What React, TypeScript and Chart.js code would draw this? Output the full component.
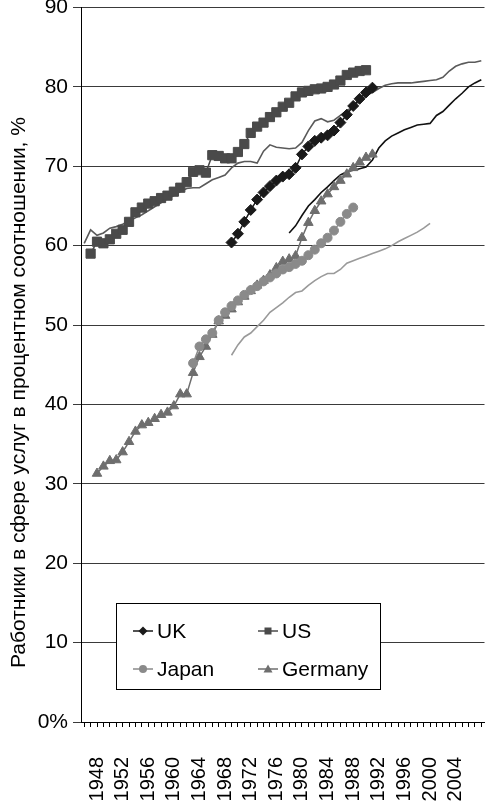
import React, { useEffect, useRef } from 'react';
import { Chart, registerables } from 'chart.js';

Chart.register(...registerables);

const FONT = '"Liberation Sans", Arial, Helvetica, sans-serif';

// ---------- data ----------
const yTickValues = [0, 10, 20, 30, 40, 50, 60, 70, 80, 90];
const xFirstYear = 1946;
const xLastYear = 2008;
const xLabelYears = [1948, 1952, 1956, 1960, 1964, 1968, 1972, 1976, 1980, 1984, 1988, 1992, 1996, 2000, 2004];

const ukStart = 1969;
const ukValues = [60.4, 61.5, 63.0, 64.5, 65.8, 66.7, 67.5, 68.2, 68.7, 69.0, 69.8, 71.5, 72.5, 73.2, 73.6, 73.9, 74.5, 75.5, 76.5, 77.6, 78.5, 79.3, 79.9];

const usStart = 1947;
const usValues = [59.0, 60.5, 60.3, 60.8, 61.5, 62.0, 63.0, 64.2, 64.8, 65.3, 65.6, 66.0, 66.3, 66.8, 67.3, 68.0, 69.3, 69.5, 69.2, 71.4, 71.3, 71.0, 71.0, 71.8, 72.8, 74.2, 75.0, 75.5, 76.2, 76.8, 77.5, 78.0, 78.8, 79.3, 79.5, 79.7, 79.8, 80.0, 80.3, 80.8, 81.5, 81.8, 82.0, 82.1];

const japanStart = 1963;
const japanValues = [45.2, 47.3, 48.2, 49.0, 50.6, 51.6, 52.4, 53.1, 53.8, 54.4, 54.9, 55.5, 56.0, 56.5, 57.0, 57.3, 57.7, 58.1, 58.8, 59.5, 60.3, 61.0, 61.9, 63.0, 64.0, 64.8];

const germanyStart = 1948;
const germanyValues = [31.3, 32.2, 32.9, 33.0, 34.0, 35.3, 36.6, 37.4, 37.7, 38.2, 38.7, 39.0, 39.8, 41.3, 41.3, 44.0, 46.0, 47.3, 48.8, 50.5, 51.2, 52.0, 52.9, 53.6, 54.3, 55.0, 55.6, 56.3, 57.2, 58.0, 58.3, 58.7, 61.0, 62.9, 64.4, 65.6, 66.5, 67.4, 68.2, 69.0, 69.8, 70.5, 71.1, 71.5];

const usLineStart = 1946;
const usLineValues = [60.3, 62.0, 61.3, 61.6, 62.2, 62.4, 62.7, 63.1, 63.5, 63.9, 64.4, 64.9, 65.4, 65.9, 66.3, 66.8, 67.2, 67.3, 67.3, 67.8, 68.3, 68.6, 68.9, 69.8, 70.4, 70.6, 70.6, 70.4, 71.9, 72.7, 72.4, 72.3, 72.2, 72.3, 73.0, 74.5, 75.7, 76.0, 75.6, 75.8, 76.4, 77.0, 77.5, 78.3, 78.9, 79.3, 79.8, 80.2, 80.4, 80.5, 80.5, 80.5, 80.6, 80.7, 80.8, 80.9, 81.2, 82.0, 82.6, 82.9, 83.1, 83.1, 83.3];

const ukLineStart = 1978;
const ukLineValues = [61.6, 62.5, 63.8, 65.0, 65.8, 66.7, 67.4, 68.2, 68.9, 69.3, 69.5, 69.7, 69.9, 70.8, 72.3, 73.2, 73.8, 74.2, 74.6, 74.9, 75.2, 75.3, 75.4, 76.4, 76.9, 77.7, 78.5, 79.2, 80.0, 80.5, 80.9];

const japanLineStart = 1969;
const japanLineValues = [46.2, 47.5, 48.5, 49.0, 49.8, 50.6, 51.6, 52.2, 52.8, 53.5, 54.1, 54.3, 55.0, 55.6, 56.1, 56.5, 56.5, 57.0, 57.8, 58.1, 58.4, 58.7, 59.0, 59.3, 59.6, 60.0, 60.5, 60.9, 61.3, 61.7, 62.2, 62.8];

const yTitle = 'Работники в сфере услуг в процентном соотношении, %';

// ---------- helpers ----------
const toPoints = (start: number, values: number[]) =>
  values.map((v, i) => ({ x: start + i, y: v }));

const xTickYears: number[] = [];
for (let yr = xFirstYear; yr <= xLastYear; yr++) xTickYears.push(yr);

type Marker = 'rectRot' | 'rect' | 'circle' | 'triangle';

function drawMarker(ctx: CanvasRenderingContext2D, style: Marker, x: number, y: number, r: number) {
  ctx.beginPath();
  if (style === 'rectRot') {
    ctx.moveTo(x, y - r);
    ctx.lineTo(x + r, y);
    ctx.lineTo(x, y + r);
    ctx.lineTo(x - r, y);
    ctx.closePath();
  } else if (style === 'rect') {
    ctx.rect(x - r, y - r, 2 * r, 2 * r);
  } else if (style === 'circle') {
    ctx.arc(x, y, r, 0, Math.PI * 2);
  } else {
    ctx.moveTo(x, y - r);
    ctx.lineTo(x + r, y + r * 0.8);
    ctx.lineTo(x - r, y + r * 0.8);
    ctx.closePath();
  }
  ctx.fill();
}

const legendItems = [
  { label: 'UK', color: '#1a1a1a', marker: 'rectRot' as Marker, r: 4.5, col: 0, row: 0 },
  { label: 'US', color: '#4a4a4a', marker: 'rect' as Marker, r: 3.5, col: 1, row: 0 },
  { label: 'Japan', color: '#8a8a8a', marker: 'circle' as Marker, r: 4, col: 0, row: 1 },
  { label: 'Germany', color: '#6e6e6e', marker: 'triangle' as Marker, r: 4.5, col: 1, row: 1 },
];

const boxLegend = {
  id: 'boxLegend',
  afterDraw(chart: any) {
    const { ctx, chartArea, scales } = chart;
    const y = scales.y;
    // y-axis title
    ctx.save();
    ctx.translate(19, y.getPixelForValue(41.5));
    ctx.rotate(-Math.PI / 2);
    ctx.font = `21px ${FONT}`;
    ctx.fillStyle = '#000000';
    ctx.textAlign = 'center';
    ctx.textBaseline = 'middle';
    ctx.fillText(yTitle, 0, 0);
    ctx.restore();

    // legend box
    const left = Math.round(chartArea.left + 35);
    const top = Math.round(y.getPixelForValue(15));
    const bottom = Math.round(y.getPixelForValue(4.1));
    const width = 264;
    ctx.save();
    ctx.fillStyle = '#ffffff';
    ctx.fillRect(left, top, width, bottom - top);
    ctx.strokeStyle = '#000000';
    ctx.lineWidth = 1;
    ctx.strokeRect(left + 0.5, top + 0.5, width, bottom - top);
    ctx.font = `21px ${FONT}`;
    ctx.textBaseline = 'middle';
    ctx.textAlign = 'left';
    for (const it of legendItems) {
      const cx = left + 27 + it.col * 125;
      const cy = top + 28 + it.row * 38;
      ctx.strokeStyle = it.color;
      ctx.lineWidth = 1.5;
      ctx.beginPath();
      ctx.moveTo(cx - 10, cy);
      ctx.lineTo(cx + 10, cy);
      ctx.stroke();
      ctx.fillStyle = it.color;
      drawMarker(ctx, it.marker, cx, cy, it.r);
      ctx.fillStyle = '#000000';
      ctx.fillText(it.label, cx + 14, cy + 1);
    }
    ctx.restore();
  },
};

export default function App() {
  const ref = useRef<HTMLCanvasElement | null>(null);

  useEffect(() => {
    if (!ref.current) return;
    const markerSet = (label: string, color: string, style: Marker, radius: number, start: number, values: number[]) => ({
      label,
      data: toPoints(start, values),
      borderColor: color,
      backgroundColor: color,
      borderWidth: 1.5,
      pointStyle: style,
      pointRadius: radius,
      pointHoverRadius: radius,
      pointBorderWidth: 1,
      pointBackgroundColor: color,
      pointBorderColor: color,
      tension: 0,
      fill: false,
    });
    const lineSet = (label: string, color: string, start: number, values: number[]) => ({
      label,
      data: toPoints(start, values),
      borderColor: color,
      backgroundColor: color,
      borderWidth: 1.6,
      pointRadius: 0,
      tension: 0,
      fill: false,
    });

    const chart = new Chart(ref.current, {
      type: 'line',
      data: {
        datasets: [
          markerSet('UK', '#1a1a1a', 'rectRot', 5.5, ukStart, ukValues),
          markerSet('US', '#4a4a4a', 'rect', 6.5, usStart, usValues),
          markerSet('Japan', '#8a8a8a', 'circle', 4.5, japanStart, japanValues),
          markerSet('Germany', '#6e6e6e', 'triangle', 5.5, germanyStart, germanyValues),
          lineSet('US (line)', '#5a5a5a', usLineStart, usLineValues),
          lineSet('UK (line)', '#111111', ukLineStart, ukLineValues),
          lineSet('Japan (line)', '#9a9a9a', japanLineStart, japanLineValues),
        ],
      },
      options: {
        responsive: false,
        animation: false,
        devicePixelRatio: 1,
        layout: { padding: { top: 6, right: 2, left: 0, bottom: 0 } },
        plugins: {
          legend: { display: false },
          tooltip: { enabled: false },
        },
        scales: {
          x: {
            type: 'linear',
            min: xFirstYear - 0.5,
            max: xLastYear + 0.5,
            afterBuildTicks: (scale: any) => {
              scale.ticks = xTickYears.map((v) => ({ value: v }));
            },
            afterFit: (scale: any) => {
              scale.height = 82;
              scale.paddingLeft = 0;
              scale.paddingRight = 0;
            },
            ticks: {
              autoSkip: false,
              minRotation: 90,
              maxRotation: 90,
              padding: 30,
              color: '#000',
              font: { family: FONT, size: 20 },
              callback: (v: any) => (xLabelYears.includes(Number(v)) ? String(v) : ''),
            },
            grid: {
              drawOnChartArea: false,
              drawTicks: true,
              tickLength: 5,
              tickColor: '#000',
              color: '#000',
            },
            border: { display: true, color: '#000', width: 1 },
          },
          y: {
            min: 0,
            max: 90,
            afterBuildTicks: (scale: any) => {
              scale.ticks = yTickValues.map((v) => ({ value: v }));
            },
            afterFit: (scale: any) => {
              scale.width = 81;
              scale.paddingTop = 0;
              scale.paddingBottom = 0;
            },
            ticks: {
              padding: 5,
              color: '#000',
              font: { family: FONT, size: 21 },
              callback: (v: any) => (Number(v) === 0 ? '0%' : String(v)),
            },
            grid: {
              color: '#3a3a3a',
              lineWidth: 1,
              drawTicks: true,
              tickLength: 8,
              tickColor: '#3a3a3a',
            },
            border: { display: true, color: '#000', width: 1 },
            title: { display: false },
          },
        },
      },
      plugins: [boxLegend],
    } as any);
    return () => chart.destroy();
  }, []);

  return (
    <div style={{ position: 'absolute', left: 0, top: 0, width: 492, height: 804, background: '#fff' }}>
      <canvas ref={ref} width={492} height={804} style={{ width: 492, height: 804, display: 'block' }} />
    </div>
  );
}
